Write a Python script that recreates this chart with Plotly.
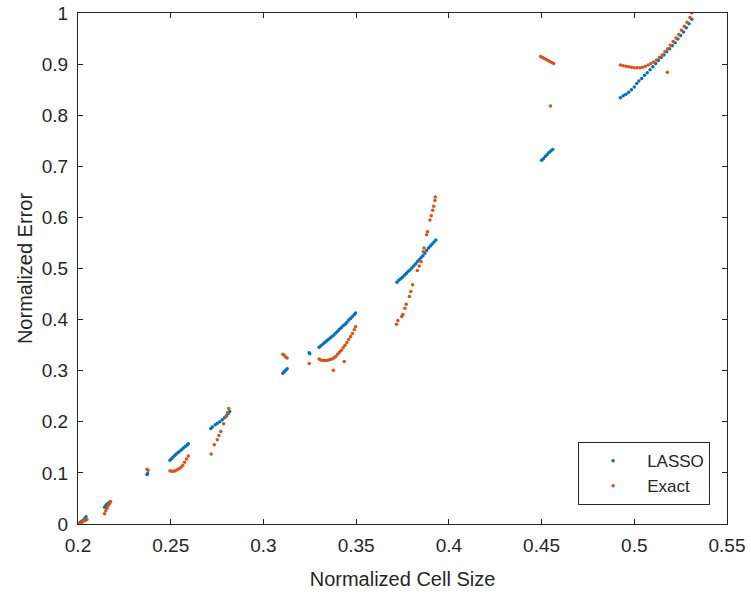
import plotly.graph_objects as go

# LASSO series (normalized cell size, normalized error)
lasso_x = [
    0.2000, 0.2008, 0.2015, 0.2022, 0.2030, 0.2037, 0.2043,
    0.2143, 0.2150, 0.2157, 0.2165, 0.2172,
    0.2372, 0.2375,
    0.2496, 0.2505, 0.2513, 0.2522, 0.2530, 0.2540, 0.2550, 0.2560, 0.2570, 0.2580, 0.2590, 0.2595,
    0.2716, 0.2725, 0.2740, 0.2752, 0.2765, 0.2778, 0.2790, 0.2800, 0.2810, 0.2818,
    0.3105, 0.3112, 0.3120, 0.3128, 0.3247, 0.3250,
    0.3300, 0.3310, 0.3320, 0.3330, 0.3340, 0.3350, 0.3360, 0.3370, 0.3380, 0.3390, 0.3400,
    0.3410, 0.3420, 0.3430, 0.3440, 0.3450, 0.3460, 0.3470, 0.3480, 0.3490, 0.3497,
    0.3720, 0.3730, 0.3740, 0.3750, 0.3760, 0.3770, 0.3780, 0.3790, 0.3800, 0.3810, 0.3820,
    0.3830, 0.3840, 0.3850, 0.3860, 0.3870, 0.3880, 0.3890, 0.3900, 0.3910, 0.3920, 0.3930,
    0.4500, 0.4510, 0.4520, 0.4530, 0.4540, 0.4550, 0.4560,
    0.4925, 0.4940, 0.4955, 0.4970, 0.4985, 0.5000, 0.5013, 0.5025, 0.5040, 0.5055, 0.5070,
    0.5085, 0.5100, 0.5115, 0.5130, 0.5145, 0.5160, 0.5175, 0.5190, 0.5205, 0.5220, 0.5235,
    0.5250, 0.5265, 0.5280, 0.5295, 0.5310,
]
lasso_y = [
    0.000, 0.002, 0.004, 0.006, 0.008, 0.011, 0.014,
    0.033, 0.036, 0.039, 0.041, 0.043,
    0.097, 0.099,
    0.125, 0.128, 0.131, 0.134, 0.137, 0.140, 0.143, 0.146, 0.149, 0.152, 0.155, 0.157,
    0.187, 0.190, 0.194, 0.197, 0.200, 0.204, 0.208, 0.212, 0.216, 0.220,
    0.295, 0.298, 0.301, 0.304, 0.335, 0.333,
    0.346, 0.349, 0.352, 0.355, 0.358, 0.361, 0.364, 0.367, 0.370, 0.374, 0.377,
    0.381, 0.384, 0.388, 0.391, 0.395, 0.399, 0.402, 0.406, 0.410, 0.413,
    0.473, 0.477, 0.480, 0.483, 0.487, 0.490, 0.494, 0.497, 0.501, 0.505, 0.509,
    0.513, 0.517, 0.521, 0.525, 0.530, 0.535, 0.540, 0.544, 0.548, 0.552, 0.556,
    0.712, 0.715, 0.719, 0.723, 0.727, 0.730, 0.733,
    0.834, 0.838, 0.841, 0.845, 0.850, 0.855, 0.862, 0.867, 0.872, 0.878, 0.883,
    0.889, 0.895, 0.901, 0.907, 0.913, 0.918, 0.924, 0.930, 0.936, 0.942, 0.949,
    0.956, 0.963, 0.971, 0.979, 0.988,
]

# Exact series
exact_x = [
    0.2000, 0.2007, 0.2015, 0.2023, 0.2031, 0.2040, 0.2048,
    0.2143, 0.2150, 0.2157, 0.2163, 0.2170, 0.2176,
    0.2372, 0.2378,
    0.2496, 0.2505, 0.2515, 0.2525, 0.2535, 0.2545, 0.2555, 0.2565, 0.2575, 0.2585, 0.2595,
    0.2718, 0.2735, 0.2751, 0.2760, 0.2770, 0.2785, 0.2798, 0.2806, 0.2813,
    0.3105, 0.3112, 0.3120, 0.3128, 0.3247,
    0.3300, 0.3310, 0.3320, 0.3330, 0.3341, 0.3350, 0.3360, 0.3370, 0.3380, 0.3390, 0.3400,
    0.3410, 0.3420, 0.3430, 0.3440, 0.3450, 0.3460, 0.3470, 0.3480, 0.3490, 0.3497,
    0.3377, 0.3436,
    0.3718, 0.3725, 0.3746, 0.3752, 0.3763, 0.3770, 0.3787, 0.3795, 0.3805, 0.3830, 0.3840,
    0.3850, 0.3862, 0.3866, 0.3880, 0.3885, 0.3898, 0.3905, 0.3913, 0.3918, 0.3925, 0.3927,
    0.4495, 0.4505, 0.4515, 0.4525, 0.4535, 0.4545, 0.4555, 0.4565, 0.4548,
    0.4925, 0.4940, 0.4955, 0.4970, 0.4985, 0.5000, 0.5015, 0.5030, 0.5045, 0.5060, 0.5075,
    0.5090, 0.5105, 0.5120, 0.5135, 0.5150, 0.5165, 0.5180, 0.5195, 0.5210, 0.5225, 0.5240,
    0.5255, 0.5270, 0.5285, 0.5300, 0.5310, 0.5178,
]
exact_y = [
    0.000, 0.001, 0.002, 0.004, 0.006, 0.007, 0.009,
    0.020, 0.026, 0.031, 0.036, 0.040, 0.044,
    0.107, 0.105,
    0.104, 0.103, 0.103, 0.104, 0.106, 0.108, 0.111, 0.115, 0.121, 0.127, 0.133,
    0.137, 0.155, 0.165, 0.173, 0.181, 0.196, 0.210, 0.218, 0.226,
    0.332, 0.330, 0.327, 0.325, 0.314,
    0.323, 0.321, 0.320, 0.320, 0.320, 0.321, 0.322, 0.323, 0.325, 0.328, 0.332,
    0.336, 0.340, 0.345, 0.350, 0.355, 0.361, 0.367, 0.373, 0.380, 0.386,
    0.301, 0.318,
    0.391, 0.398, 0.406, 0.410, 0.422, 0.430, 0.445, 0.455, 0.468, 0.496, 0.505,
    0.513, 0.533, 0.540, 0.566, 0.572, 0.595, 0.603, 0.614, 0.622, 0.633, 0.640,
    0.915, 0.913, 0.911, 0.909, 0.907, 0.905, 0.903, 0.901, 0.818,
    0.898, 0.897, 0.896, 0.895, 0.894, 0.893, 0.893, 0.893, 0.894, 0.896, 0.898,
    0.901, 0.904, 0.908, 0.913, 0.918, 0.924, 0.930, 0.937, 0.944, 0.951, 0.958,
    0.966, 0.974, 0.982, 0.991, 1.000, 0.884,
]

x_ticks = [0.2, 0.25, 0.3, 0.35, 0.4, 0.45, 0.5, 0.55]
y_ticks = [0, 0.1, 0.2, 0.3, 0.4, 0.5, 0.6, 0.7, 0.8, 0.9, 1]

BLUE = "#0072BD"
ORANGE = "#D95319"
INK = "#262626"
FONT = "Liberation Sans, Arial, sans-serif"

fig = go.Figure()
fig.add_trace(go.Scatter(x=lasso_x, y=lasso_y, mode="markers", name="LASSO",
                         legendgroup="a",
                         marker=dict(color=BLUE, size=3.5, line=dict(width=0))))
fig.add_trace(go.Scatter(x=exact_x, y=exact_y, mode="markers", name="Exact",
                         legendgroup="b",
                         marker=dict(color=ORANGE, size=3.5, line=dict(width=0))))

axis_common = dict(
    showgrid=False, zeroline=False, showline=True, linecolor=INK, linewidth=1,
    mirror="ticks", ticks="inside", ticklen=5, tickwidth=1, tickcolor=INK,
    tickfont=dict(family=FONT, size=19, color=INK), automargin=False,
    ticklabeloverflow="allow",
)

fig.update_layout(
    width=751, height=594,
    paper_bgcolor="white", plot_bgcolor="white",
    margin=dict(l=78, r=24, t=13, b=70),
    font=dict(family=FONT, color=INK),
    xaxis=dict(range=[0.2, 0.55], tickvals=x_ticks,
               ticktext=[f"{v:g}" for v in x_ticks], ticklabelstandoff=4,
               title=dict(text="Normalized Cell Size", font=dict(family=FONT, size=20, color=INK), standoff=17),
               **axis_common),
    yaxis=dict(range=[0, 1], tickvals=y_ticks,
               ticktext=[f"{v:g}" for v in y_ticks], ticklabelstandoff=5,
               title=dict(text="Normalized Error", font=dict(family=FONT, size=20, color=INK), standoff=3),
               **axis_common),
    showlegend=True,
    legend=dict(x=0.974, y=0.037, xanchor="right", yanchor="bottom",
                bgcolor="white", bordercolor=INK, borderwidth=1,
                font=dict(family=FONT, size=17, color=INK),
                tracegroupgap=0, itemwidth=58),
)

# remove the browser's default page margin so the figure sits at the window origin
fig.write_html("out.html", config={"displayModeBar": False},
               post_script="document.body.style.margin='0px';")
